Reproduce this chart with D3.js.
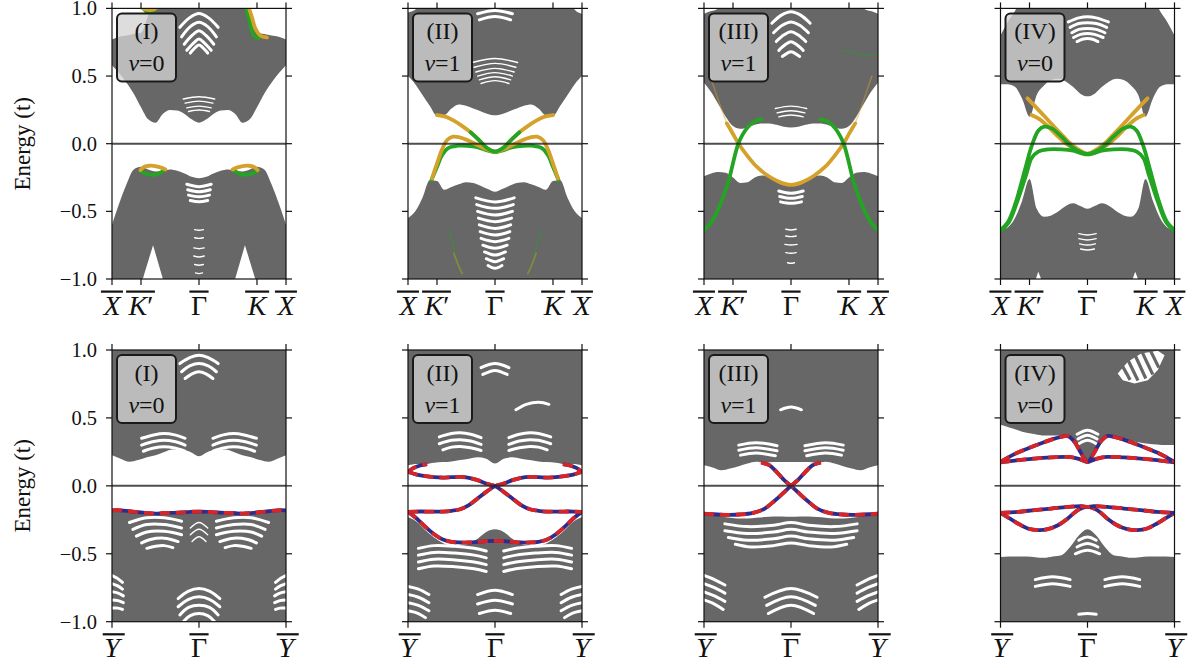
<!DOCTYPE html>
<html>
<head>
<meta charset="utf-8">
<script src="https://cdn.jsdelivr.net/npm/d3@7/dist/d3.min.js"></script>
<style>
  html, body { margin: 0; padding: 0; background: #fff; }
</style>
</head>
<body>
<svg id="fig" width="1203" height="668"></svg>
<script>
// ---------- momentum grids and axis labels ----------
const kTop = [0, 0.0417, 0.0833, 0.125, 0.1667, 0.2083, 0.25, 0.2917, 0.3333, 0.375, 0.4167, 0.4583, 0.5,
              0.5417, 0.5833, 0.625, 0.6667, 0.7083, 0.75, 0.7917, 0.8333, 0.875, 0.9167, 0.9583, 1];
const kBottom = [0, 0.05, 0.1, 0.15, 0.2, 0.25, 0.3, 0.35, 0.4, 0.45, 0.5,
                 0.55, 0.6, 0.65, 0.7, 0.75, 0.8, 0.85, 0.9, 0.95, 1];
const energyTicks = [-1, -0.5, 0, 0.5, 1];
const topTickK = [0, 0.1667, 0.5, 0.8333, 1];
const topTickLabels = ["X", "K′", "Γ", "K", "X"];
const bottomTickK = [0, 0.5, 1];
const bottomTickLabels = ["Y", "Γ", "Y"];
const phaseNames = ["(I)", "(II)", "(III)", "(IV)"];
const nuValues = [0, 1, 1, 0];

// ---------- top row, phase I ----------
const upperLowI  = [0.58,0.52,0.45,0.37,0.27,0.18,0.155,0.22,0.25,0.245,0.22,0.18,0.155,0.18,0.22,0.245,0.25,0.22,0.155,0.18,0.27,0.37,0.45,0.52,0.58];
const upperHighI = [0.77,0.79,0.80,0.81,0.82,0.95,1.1,1.1,1.1,1.1,1.1,1.1,1.1,1.1,1.1,1.1,1.1,1.1,1.1,0.95,0.82,0.81,0.80,0.79,0.77];
const lowerHighI = [-0.60,-0.44,-0.30,-0.19,-0.17,-0.19,-0.205,-0.2,-0.19,-0.2,-0.22,-0.245,-0.256,-0.245,-0.22,-0.2,-0.19,-0.2,-0.205,-0.19,-0.17,-0.19,-0.30,-0.44,-0.60];
const holesI = [
  [[0.172,-1.02],[0.236,-0.75],[0.297,-1.02]],
  [[0.703,-1.02],[0.764,-0.75],[0.828,-1.02]]
];
const gapsBoldI = [
  [[0.39,0.86],[0.445,0.93],[0.50,0.962],[0.555,0.93],[0.61,0.86]],
  [[0.40,0.79],[0.45,0.865],[0.50,0.897],[0.55,0.865],[0.60,0.79]],
  [[0.415,0.735],[0.46,0.80],[0.50,0.835],[0.54,0.80],[0.585,0.735]],
  [[0.43,0.69],[0.47,0.745],[0.50,0.773],[0.53,0.745],[0.57,0.69]],
  [[0.45,0.67],[0.48,0.712],[0.50,0.729],[0.52,0.712],[0.55,0.67]],
  [[0.43,-0.30],[0.5,-0.318],[0.57,-0.30]],
  [[0.435,-0.34],[0.5,-0.355],[0.565,-0.34]],
  [[0.44,-0.38],[0.5,-0.392],[0.56,-0.38]],
  [[0.45,-0.42],[0.5,-0.429],[0.55,-0.42]]
];
const gapsFineI = [
  [[0.41,0.33],[0.5,0.347],[0.59,0.33]],
  [[0.42,0.30],[0.5,0.315],[0.58,0.30]],
  [[0.43,0.265],[0.5,0.278],[0.57,0.265]],
  [[0.44,0.238],[0.5,0.249],[0.56,0.238]],
  [[0.475,-0.635],[0.5,-0.64],[0.525,-0.635]],
  [[0.475,-0.695],[0.5,-0.70],[0.525,-0.695]],
  [[0.47,-0.77],[0.5,-0.776],[0.53,-0.77]],
  [[0.47,-0.83],[0.5,-0.837],[0.53,-0.83]],
  [[0.475,-0.893],[0.5,-0.898],[0.525,-0.893]],
  [[0.48,-0.955],[0.5,-0.96],[0.52,-0.955]]
];
const goldLowLeftI   = [[0.163,-0.195],[0.186,-0.17],[0.215,-0.163],[0.249,-0.165],[0.278,-0.175],[0.307,-0.19]];
const goldLowRightI  = [[0.693,-0.19],[0.722,-0.175],[0.751,-0.165],[0.785,-0.163],[0.814,-0.17],[0.837,-0.195]];
const greenLowLeftI  = [[0.163,-0.2],[0.192,-0.22],[0.22,-0.229],[0.249,-0.229],[0.278,-0.214],[0.297,-0.2]];
const greenLowRightI = [[0.703,-0.2],[0.722,-0.214],[0.751,-0.229],[0.78,-0.229],[0.808,-0.22],[0.837,-0.2]];
const greenHighKI    = [[0.766,1.01],[0.785,0.94],[0.799,0.86],[0.814,0.80],[0.843,0.78]];
const goldHighKI     = [[0.785,1.01],[0.805,0.93],[0.824,0.85],[0.852,0.80],[0.89,0.785]];
const greenHighKpI   = [[0.175,1.01],[0.2,0.975],[0.23,0.975],[0.255,1.01]];
const goldHighKpI    = [[0.165,1.01],[0.2,0.99],[0.235,0.99],[0.26,1.01]];

// ---------- top row, phase II ----------
const upperLowII  = [0.5,0.44,0.36,0.28,0.205,0.21,0.26,0.29,0.28,0.26,0.24,0.22,0.21,0.22,0.24,0.26,0.28,0.29,0.26,0.21,0.205,0.28,0.36,0.44,0.5];
const upperHighII = [0.97,0.99,1.1,1.1,1.1,1.1,1.1,1.1,1.1,1.1,1.1,1.1,1.1,1.1,1.1,1.1,1.1,1.1,1.1,1.1,1.1,1.1,1.1,0.99,0.96];
const lowerHighII = [-0.55,-0.5,-0.4,-0.27,-0.275,-0.34,-0.32,-0.3,-0.285,-0.29,-0.31,-0.335,-0.355,-0.335,-0.31,-0.29,-0.285,-0.3,-0.32,-0.34,-0.275,-0.27,-0.4,-0.5,-0.55];
const gapsBoldII = [
  [[0.40,0.96],[0.5,0.985],[0.6,0.96]],
  [[0.41,0.915],[0.5,0.94],[0.59,0.915]],
  [[0.39,-0.40],[0.5,-0.43],[0.61,-0.40]],
  [[0.395,-0.45],[0.5,-0.478],[0.605,-0.45]],
  [[0.40,-0.50],[0.5,-0.527],[0.60,-0.50]],
  [[0.405,-0.55],[0.5,-0.576],[0.595,-0.55]],
  [[0.41,-0.60],[0.5,-0.626],[0.59,-0.60]],
  [[0.415,-0.65],[0.5,-0.675],[0.585,-0.65]],
  [[0.42,-0.70],[0.5,-0.724],[0.58,-0.70]],
  [[0.43,-0.75],[0.5,-0.773],[0.57,-0.75]],
  [[0.44,-0.80],[0.5,-0.823],[0.56,-0.80]],
  [[0.45,-0.85],[0.5,-0.872],[0.55,-0.85]],
  [[0.46,-0.90],[0.5,-0.921],[0.54,-0.90]]
];
const gapsFineII = [
  [[0.37,0.60],[0.5,0.63],[0.63,0.60]],
  [[0.38,0.565],[0.5,0.594],[0.62,0.565]],
  [[0.39,0.53],[0.5,0.557],[0.61,0.53]],
  [[0.40,0.50],[0.5,0.525],[0.60,0.50]],
  [[0.41,0.472],[0.5,0.495],[0.59,0.472]],
  [[0.42,0.445],[0.5,0.466],[0.58,0.445]]
];
const goldA_II = [[0.167,0.212],[0.215,0.2],[0.263,0.17],[0.312,0.13],[0.36,0.084],[0.408,0.027],[0.456,-0.034],[0.5,-0.059],
                  [0.544,-0.034],[0.592,0.027],[0.64,0.084],[0.688,0.13],[0.737,0.17],[0.785,0.2],[0.833,0.212]];
const greenMidII = [[0.36,0.084],[0.408,0.027],[0.456,-0.034],[0.5,-0.059],[0.544,-0.034],[0.592,0.027],[0.64,0.084]];
const goldB_II = [[0.138,-0.256],[0.167,-0.145],[0.196,-0.042],[0.225,0.027],[0.258,0.052],[0.296,0.047],[0.34,0.027],[0.388,-0.002],[0.446,-0.039],[0.5,-0.059],
                  [0.554,-0.039],[0.612,-0.002],[0.66,0.027],[0.704,0.047],[0.742,0.052],[0.775,0.027],[0.804,-0.042],[0.833,-0.145],[0.862,-0.256]];
const greenC_II = [[0.135,-0.268],[0.167,-0.17],[0.196,-0.084],[0.231,-0.032],[0.283,-0.015],[0.34,-0.015],[0.398,-0.025],[0.456,-0.049],[0.5,-0.062],
                   [0.544,-0.049],[0.602,-0.025],[0.66,-0.015],[0.717,-0.015],[0.769,-0.032],[0.804,-0.084],[0.833,-0.17],[0.865,-0.268]];
const greenFaintLeftII  = [[0.235,-0.64],[0.27,-0.8],[0.302,-0.96]];
const greenFaintRightII = [[0.698,-0.96],[0.73,-0.8],[0.765,-0.64]];
const goldFaintLeftII   = [[0.263,-0.81],[0.29,-0.9],[0.312,-0.96]];
const goldFaintRightII  = [[0.688,-0.96],[0.71,-0.9],[0.737,-0.81]];

// ---------- top row, phase III ----------
const upperLowIII  = [0.45,0.38,0.29,0.2,0.13,0.11,0.12,0.14,0.15,0.15,0.14,0.125,0.12,0.125,0.14,0.15,0.15,0.14,0.12,0.11,0.13,0.2,0.29,0.38,0.45];
const upperHighIII = [0.96,0.98,1.0,1.1,1.1,1.1,1.1,1.1,1.1,1.1,1.1,1.1,1.1,1.1,1.1,1.1,1.1,1.1,1.1,1.1,1.1,1.1,1.0,0.98,0.96];
const lowerHighIII = [-0.24,-0.22,-0.21,-0.215,-0.25,-0.29,-0.285,-0.25,-0.235,-0.24,-0.26,-0.29,-0.305,-0.29,-0.26,-0.24,-0.235,-0.25,-0.285,-0.29,-0.25,-0.215,-0.21,-0.22,-0.24];
const gapsBoldIII = [
  [[0.39,0.89],[0.445,0.95],[0.50,0.975],[0.555,0.95],[0.61,0.89]],
  [[0.40,0.82],[0.45,0.875],[0.50,0.90],[0.55,0.875],[0.60,0.82]],
  [[0.415,0.755],[0.46,0.805],[0.50,0.828],[0.54,0.805],[0.585,0.755]],
  [[0.43,0.69],[0.47,0.735],[0.50,0.754],[0.53,0.735],[0.57,0.69]],
  [[0.45,0.645],[0.48,0.67],[0.50,0.68],[0.52,0.67],[0.55,0.645]],
  [[0.43,-0.35],[0.5,-0.367],[0.57,-0.35]],
  [[0.435,-0.39],[0.5,-0.404],[0.565,-0.39]],
  [[0.44,-0.43],[0.5,-0.441],[0.56,-0.43]]
];
const gapsFineIII = [
  [[0.41,0.26],[0.5,0.278],[0.59,0.26]],
  [[0.42,0.228],[0.5,0.244],[0.58,0.228]],
  [[0.43,0.198],[0.5,0.212],[0.57,0.198]],
  [[0.47,-0.632],[0.5,-0.638],[0.53,-0.632]],
  [[0.47,-0.682],[0.5,-0.687],[0.53,-0.682]],
  [[0.465,-0.744],[0.5,-0.749],[0.535,-0.744]],
  [[0.47,-0.805],[0.5,-0.81],[0.53,-0.805]],
  [[0.48,-0.88],[0.5,-0.884],[0.52,-0.88]]
];
const goldIII = [[0.131,0.15],[0.165,0.076],[0.198,0.002],[0.246,-0.084],[0.303,-0.17],[0.37,-0.239],[0.438,-0.286],[0.5,-0.305],
                 [0.562,-0.286],[0.63,-0.239],[0.697,-0.17],[0.754,-0.084],[0.802,0.002],[0.835,0.076],[0.869,0.15]];
const greenLeftIII  = [[0,-0.638],[0.044,-0.576],[0.092,-0.453],[0.14,-0.281],[0.198,0.002],[0.246,0.113],[0.294,0.167],[0.332,0.18]];
const greenRightIII = [[0.668,0.18],[0.706,0.167],[0.754,0.113],[0.802,0.002],[0.86,-0.281],[0.908,-0.453],[0.956,-0.576],[1,-0.638]];
const goldFaintLeftIII  = [[0.035,0.5],[0.08,0.33],[0.131,0.15]];
const goldFaintRightIII = [[0.869,0.15],[0.92,0.33],[0.965,0.5]];
const greenFaintIII     = [[0.8,0.69],[0.9,0.66],[1,0.655]];

// ---------- top row, phase IV ----------
const upperLowIV  = [0.44,0.44,0.42,0.33,0.2,0.36,0.43,0.47,0.48,0.46,0.42,0.37,0.35,0.37,0.42,0.46,0.48,0.47,0.43,0.36,0.2,0.33,0.42,0.44,0.44];
const upperHighIV = [0.8,0.9,0.98,1.1,1.1,1.1,1.1,1.1,1.1,1.1,1.1,1.1,1.1,1.1,1.1,1.1,1.1,1.1,1.1,1.1,1.1,1.1,0.98,0.9,0.8];
const lowerHighIV = [-0.64,-0.62,-0.55,-0.42,-0.26,-0.48,-0.54,-0.53,-0.5,-0.46,-0.44,-0.46,-0.48,-0.46,-0.44,-0.46,-0.5,-0.53,-0.54,-0.48,-0.26,-0.42,-0.55,-0.62,-0.64];
const holesIV = [
  [[0.198,-1.02],[0.217,-0.946],[0.24,-1.02]],
  [[0.754,-1.02],[0.774,-0.946],[0.797,-1.02]]
];
const gapsBoldIV = [
  [[0.39,0.90],[0.45,0.93],[0.50,0.938],[0.55,0.93],[0.62,0.90]],
  [[0.40,0.86],[0.45,0.888],[0.50,0.894],[0.55,0.888],[0.61,0.86]],
  [[0.41,0.82],[0.45,0.845],[0.50,0.852],[0.55,0.845],[0.60,0.82]],
  [[0.42,0.785],[0.46,0.808],[0.50,0.815],[0.54,0.808],[0.59,0.785]],
  [[0.44,0.755],[0.47,0.772],[0.50,0.778],[0.53,0.772],[0.56,0.755]]
];
const gapsFineIV = [
  [[0.45,-0.665],[0.5,-0.675],[0.55,-0.665]],
  [[0.45,-0.702],[0.5,-0.712],[0.55,-0.702]],
  [[0.455,-0.74],[0.5,-0.749],[0.545,-0.74]],
  [[0.46,-0.778],[0.5,-0.786],[0.54,-0.778]]
];
const greenUpIV = [[0,-0.638],[0.044,-0.576],[0.092,-0.416],[0.14,-0.195],[0.178,-0.022],[0.217,0.096],[0.251,0.126],[0.294,0.113],[0.351,0.052],[0.409,-0.022],[0.457,-0.059],[0.5,-0.076],
                   [0.543,-0.059],[0.591,-0.022],[0.649,0.052],[0.706,0.113],[0.749,0.126],[0.783,0.096],[0.822,-0.022],[0.86,-0.195],[0.908,-0.416],[0.956,-0.576],[1,-0.638]];
const greenLowIV = [[0,-0.645],[0.048,-0.58],[0.098,-0.42],[0.15,-0.219],[0.178,-0.108],[0.217,-0.059],[0.274,-0.042],[0.351,-0.042],[0.418,-0.052],[0.466,-0.071],[0.5,-0.079],
                    [0.534,-0.071],[0.582,-0.052],[0.649,-0.042],[0.726,-0.042],[0.783,-0.059],[0.822,-0.108],[0.85,-0.219],[0.902,-0.42],[0.952,-0.58],[1,-0.645]];
const goldOneIV = [[0.155,0.335],[0.198,0.278],[0.246,0.212],[0.294,0.145],[0.342,0.081],[0.39,0.015],[0.438,-0.034],[0.5,-0.073],
                   [0.562,-0.034],[0.61,0.015],[0.658,0.081],[0.706,0.145],[0.754,0.212],[0.802,0.278],[0.845,0.335]];
const goldTwoIV = [[0.178,0.212],[0.226,0.18],[0.274,0.126],[0.322,0.064],[0.37,0.007],[0.418,-0.034],[0.466,-0.067],[0.5,-0.076],
                   [0.534,-0.067],[0.582,-0.034],[0.63,0.007],[0.678,0.064],[0.726,0.126],[0.774,0.18],[0.822,0.212]];

// ---------- bottom row, phase I ----------
const upperLowBI = [0.226,0.2,0.177,0.19,0.21,0.226,0.25,0.268,0.263,0.25,0.218,0.25,0.263,0.268,0.25,0.226,0.21,0.19,0.177,0.2,0.226];
const lowerHighBI = [-0.19,-0.19,-0.197,-0.204,-0.21,-0.214,-0.21,-0.209,-0.206,-0.201,-0.2,-0.201,-0.206,-0.209,-0.21,-0.214,-0.21,-0.204,-0.197,-0.19,-0.19];
const gapsBoldBI = [
  [[0.39,0.90],[0.45,0.945],[0.5,0.962],[0.55,0.945],[0.61,0.90]],
  [[0.40,0.84],[0.45,0.885],[0.5,0.90],[0.55,0.885],[0.60,0.84]],
  [[0.42,0.79],[0.46,0.825],[0.5,0.84],[0.54,0.825],[0.58,0.79]],
  [[0.17,0.35],[0.24,0.375],[0.3,0.385],[0.36,0.375],[0.42,0.35]],
  [[0.17,0.30],[0.24,0.326],[0.3,0.336],[0.36,0.326],[0.42,0.30]],
  [[0.18,0.255],[0.24,0.278],[0.3,0.287],[0.36,0.278],[0.42,0.255]],
  [[0.58,0.35],[0.64,0.375],[0.7,0.385],[0.76,0.375],[0.83,0.35]],
  [[0.58,0.30],[0.64,0.326],[0.7,0.336],[0.76,0.326],[0.83,0.30]],
  [[0.58,0.255],[0.64,0.278],[0.7,0.287],[0.76,0.278],[0.82,0.255]],
  [[0.1,-0.27],[0.2,-0.235],[0.3,-0.235],[0.4,-0.26]],
  [[0.12,-0.32],[0.2,-0.285],[0.3,-0.285],[0.4,-0.31]],
  [[0.14,-0.37],[0.2,-0.34],[0.3,-0.335],[0.4,-0.36]],
  [[0.17,-0.42],[0.22,-0.395],[0.3,-0.385],[0.38,-0.41]],
  [[0.2,-0.46],[0.25,-0.445],[0.3,-0.44],[0.35,-0.455]],
  [[0.6,-0.26],[0.7,-0.235],[0.8,-0.235],[0.9,-0.27]],
  [[0.6,-0.31],[0.7,-0.285],[0.8,-0.285],[0.88,-0.32]],
  [[0.6,-0.36],[0.7,-0.335],[0.8,-0.34],[0.86,-0.37]],
  [[0.62,-0.41],[0.7,-0.385],[0.78,-0.395],[0.83,-0.42]],
  [[0.65,-0.455],[0.7,-0.44],[0.75,-0.445],[0.8,-0.46]],
  [[0.38,-0.83],[0.44,-0.775],[0.5,-0.756],[0.56,-0.775],[0.62,-0.83]],
  [[0.38,-0.89],[0.44,-0.835],[0.5,-0.817],[0.56,-0.835],[0.62,-0.89]],
  [[0.39,-0.95],[0.44,-0.895],[0.5,-0.879],[0.56,-0.895],[0.61,-0.95]],
  [[0.41,-1.0],[0.45,-0.955],[0.5,-0.94],[0.55,-0.955],[0.59,-1.0]],
  [[0,-0.66],[0.03,-0.68],[0.06,-0.71]],
  [[0,-0.72],[0.03,-0.735],[0.06,-0.76]],
  [[0,-0.78],[0.035,-0.79],[0.065,-0.81]],
  [[0,-0.84],[0.035,-0.845],[0.065,-0.86]],
  [[0,-0.9],[0.035,-0.9],[0.06,-0.91]],
  [[0.94,-0.71],[0.97,-0.68],[1,-0.66]],
  [[0.94,-0.76],[0.97,-0.735],[1,-0.72]],
  [[0.935,-0.81],[0.965,-0.79],[1,-0.78]],
  [[0.935,-0.86],[0.965,-0.845],[1,-0.84]],
  [[0.94,-0.91],[0.965,-0.9],[1,-0.9]]
];
const gapsFineBI = [
  [[0.45,-0.31],[0.5,-0.27],[0.55,-0.31]],
  [[0.45,-0.36],[0.5,-0.32],[0.55,-0.36]],
  [[0.46,-0.41],[0.5,-0.375],[0.54,-0.41]]
];
const surfaceBI = [[0,-0.18],[0.05,-0.18],[0.1,-0.187],[0.15,-0.194],[0.2,-0.2],[0.25,-0.204],[0.3,-0.2],[0.35,-0.199],[0.4,-0.196],[0.45,-0.191],[0.5,-0.19],
                   [0.55,-0.191],[0.6,-0.196],[0.65,-0.199],[0.7,-0.2],[0.75,-0.204],[0.8,-0.2],[0.85,-0.194],[0.9,-0.187],[0.95,-0.18],[1,-0.18]];

// ---------- bottom row, phase II ----------
const upperLowBII = [0.15,0.16,0.16,0.17,0.175,0.18,0.19,0.2,0.21,0.2,0.165,0.2,0.21,0.2,0.19,0.18,0.175,0.17,0.16,0.16,0.15];
const lowerHighBII = [-0.23,-0.265,-0.326,-0.38,-0.42,-0.44,-0.44,-0.43,-0.39,-0.34,-0.32,-0.34,-0.39,-0.43,-0.44,-0.44,-0.42,-0.38,-0.326,-0.265,-0.23];
const gapsBoldBII = [
  [[0.42,0.87],[0.5,0.9],[0.58,0.87]],
  [[0.43,0.82],[0.5,0.85],[0.57,0.82]],
  [[0.62,0.56],[0.68,0.6],[0.75,0.615],[0.81,0.6]],
  [[0.18,0.36],[0.25,0.385],[0.3,0.39],[0.36,0.38],[0.42,0.355]],
  [[0.18,0.31],[0.25,0.335],[0.3,0.34],[0.36,0.33],[0.42,0.305]],
  [[0.2,0.265],[0.25,0.285],[0.3,0.29],[0.36,0.28],[0.42,0.26]],
  [[0.58,0.355],[0.64,0.38],[0.7,0.39],[0.75,0.385],[0.82,0.36]],
  [[0.58,0.305],[0.64,0.33],[0.7,0.34],[0.75,0.335],[0.82,0.31]],
  [[0.58,0.26],[0.64,0.28],[0.7,0.29],[0.75,0.285],[0.8,0.265]],
  [[0.06,-0.46],[0.15,-0.44],[0.27,-0.445],[0.38,-0.46],[0.45,-0.48]],
  [[0.06,-0.51],[0.15,-0.49],[0.27,-0.495],[0.38,-0.51],[0.45,-0.53]],
  [[0.06,-0.56],[0.15,-0.54],[0.27,-0.545],[0.38,-0.56],[0.45,-0.58]],
  [[0.06,-0.61],[0.15,-0.59],[0.27,-0.595],[0.38,-0.61],[0.45,-0.63]],
  [[0.55,-0.48],[0.62,-0.46],[0.73,-0.445],[0.85,-0.44],[0.94,-0.46]],
  [[0.55,-0.53],[0.62,-0.51],[0.73,-0.495],[0.85,-0.49],[0.94,-0.51]],
  [[0.55,-0.58],[0.62,-0.56],[0.73,-0.545],[0.85,-0.54],[0.94,-0.56]],
  [[0.55,-0.63],[0.62,-0.61],[0.73,-0.595],[0.85,-0.59],[0.94,-0.61]],
  [[0,-0.74],[0.06,-0.76],[0.12,-0.8]],
  [[0,-0.8],[0.06,-0.82],[0.12,-0.86]],
  [[0,-0.86],[0.06,-0.88],[0.12,-0.92]],
  [[0,-0.92],[0.06,-0.94],[0.1,-0.97]],
  [[0.88,-0.8],[0.94,-0.76],[1,-0.74]],
  [[0.88,-0.86],[0.94,-0.82],[1,-0.8]],
  [[0.88,-0.92],[0.94,-0.88],[1,-0.86]],
  [[0.9,-0.97],[0.94,-0.94],[1,-0.92]],
  [[0.4,-0.8],[0.5,-0.768],[0.6,-0.8]],
  [[0.4,-0.87],[0.5,-0.842],[0.6,-0.87]],
  [[0.41,-0.94],[0.5,-0.915],[0.59,-0.94]]
];
const surfaceOneBII = [[0,0.103],[0.05,0.083],[0.1,0.071],[0.15,0.064],[0.2,0.061],[0.25,0.064],[0.3,0.066],[0.35,0.059],[0.4,0.042],[0.45,0.017],[0.5,-0.002],
                       [0.55,-0.044],[0.6,-0.093],[0.65,-0.142],[0.7,-0.172],[0.75,-0.184],[0.8,-0.189],[0.85,-0.189],[0.9,-0.189],[0.95,-0.189],[1,-0.191]];
const surfaceTwoBII = [[0,-0.191],[0.05,-0.189],[0.1,-0.189],[0.15,-0.189],[0.2,-0.189],[0.25,-0.184],[0.3,-0.172],[0.35,-0.142],[0.4,-0.093],[0.45,-0.044],[0.5,-0.002],
                       [0.55,0.017],[0.6,0.042],[0.65,0.059],[0.7,0.066],[0.75,0.064],[0.8,0.061],[0.85,0.064],[0.9,0.071],[0.95,0.083],[1,0.103]];
const surfaceBowlBII = [[0,-0.191],[0.05,-0.24],[0.1,-0.302],[0.15,-0.356],[0.2,-0.395],[0.25,-0.412],[0.3,-0.417],[0.35,-0.417],[0.4,-0.412],[0.45,-0.407],[0.5,-0.405],
                        [0.55,-0.407],[0.6,-0.412],[0.65,-0.417],[0.7,-0.417],[0.75,-0.412],[0.8,-0.395],[0.85,-0.356],[0.9,-0.302],[0.95,-0.24],[1,-0.191]];
const surfaceLoopLeftBII  = [[0,0.103],[0.03,0.13],[0.07,0.15],[0.11,0.16]];
const surfaceLoopRightBII = [[0.89,0.16],[0.93,0.15],[0.97,0.13],[1,0.103]];

// ---------- bottom row, phase III ----------
const upperLowBIII = [0.152,0.135,0.115,0.128,0.145,0.164,0.177,0.17,0.175,0.175,0.175,0.175,0.175,0.17,0.177,0.164,0.145,0.128,0.115,0.135,0.152];
const lowerHighBIII = [-0.21,-0.215,-0.225,-0.235,-0.24,-0.24,-0.235,-0.23,-0.225,-0.225,-0.228,-0.225,-0.225,-0.23,-0.235,-0.24,-0.24,-0.235,-0.225,-0.215,-0.21];
const gapsBoldBIII = [
  [[0.2,0.3],[0.3,0.318],[0.42,0.295]],
  [[0.2,0.262],[0.3,0.28],[0.42,0.258]],
  [[0.21,0.226],[0.3,0.242],[0.41,0.222]],
  [[0.58,0.295],[0.7,0.318],[0.8,0.3]],
  [[0.58,0.258],[0.7,0.28],[0.8,0.262]],
  [[0.59,0.222],[0.7,0.242],[0.79,0.226]],
  [[0.44,0.56],[0.5,0.58],[0.56,0.56]],
  [[0.12,-0.28],[0.25,-0.3],[0.4,-0.29],[0.5,-0.27],[0.6,-0.29],[0.75,-0.3],[0.88,-0.28]],
  [[0.12,-0.33],[0.25,-0.35],[0.4,-0.34],[0.5,-0.32],[0.6,-0.34],[0.75,-0.35],[0.88,-0.33]],
  [[0.14,-0.38],[0.25,-0.4],[0.4,-0.39],[0.5,-0.37],[0.6,-0.39],[0.75,-0.4],[0.86,-0.38]],
  [[0.18,-0.43],[0.27,-0.45],[0.4,-0.44],[0.5,-0.42],[0.6,-0.44],[0.73,-0.45],[0.82,-0.43]],
  [[0,-0.66],[0.06,-0.69],[0.12,-0.73]],
  [[0,-0.72],[0.06,-0.75],[0.12,-0.79]],
  [[0,-0.78],[0.06,-0.81],[0.12,-0.85]],
  [[0,-0.84],[0.06,-0.87],[0.11,-0.91]],
  [[0.88,-0.73],[0.94,-0.69],[1,-0.66]],
  [[0.88,-0.79],[0.94,-0.75],[1,-0.72]],
  [[0.88,-0.85],[0.94,-0.81],[1,-0.78]],
  [[0.89,-0.91],[0.94,-0.87],[1,-0.84]],
  [[0.35,-0.82],[0.5,-0.756],[0.65,-0.82]],
  [[0.36,-0.88],[0.5,-0.817],[0.64,-0.88]],
  [[0.37,-0.94],[0.5,-0.879],[0.63,-0.94]]
];
const surfaceOneBIII = [[0.328,0.172],[0.375,0.152],[0.417,0.103],[0.461,0.042],[0.5,0],[0.547,-0.056],[0.594,-0.11],[0.651,-0.167],[0.718,-0.199],[0.794,-0.211],[0.87,-0.213],[0.947,-0.209],[1,-0.204]];
const surfaceTwoBIII = [[0,-0.204],[0.053,-0.209],[0.13,-0.213],[0.206,-0.211],[0.282,-0.199],[0.349,-0.167],[0.406,-0.11],[0.453,-0.056],[0.5,0],[0.539,0.042],[0.583,0.103],[0.625,0.152],[0.672,0.172]];

// ---------- bottom row, phase IV ----------
const upperLowBIV = [0.45,0.43,0.41,0.39,0.38,0.37,0.37,0.37,0.36,0.27,0.18,0.27,0.36,0.36,0.34,0.33,0.32,0.31,0.305,0.3,0.3];
const lowerHighBIV = [-0.523,-0.52,-0.52,-0.52,-0.525,-0.53,-0.52,-0.51,-0.45,-0.365,-0.32,-0.365,-0.45,-0.51,-0.52,-0.53,-0.525,-0.52,-0.52,-0.52,-0.523];
const holesBIV = [
  [[0.674,0.827],[0.732,0.913],[0.808,0.974],[0.904,0.994],[0.943,0.962],[0.904,0.852],[0.847,0.778],[0.77,0.753],[0.703,0.778]]
];
const bulkStripesBIV = [
  [[0.68,0.93],[0.745,0.78]],
  [[0.72,0.96],[0.79,0.775]],
  [[0.765,0.985],[0.835,0.79]],
  [[0.81,0.995],[0.875,0.82]],
  [[0.86,1.0],[0.91,0.87]]
];
const gapsBoldBIV = [
  [[0.44,0.38],[0.5,0.41],[0.56,0.38]],
  [[0.445,0.345],[0.5,0.373],[0.555,0.345]],
  [[0.45,0.31],[0.5,0.336],[0.55,0.31]],
  [[0.45,-0.4],[0.5,-0.376],[0.55,-0.4]],
  [[0.44,-0.45],[0.5,-0.425],[0.56,-0.45]],
  [[0.43,-0.5],[0.5,-0.474],[0.57,-0.5]],
  [[0.2,-0.69],[0.3,-0.67],[0.4,-0.69]],
  [[0.2,-0.74],[0.3,-0.72],[0.4,-0.74]],
  [[0.6,-0.69],[0.7,-0.67],[0.8,-0.69]],
  [[0.6,-0.74],[0.7,-0.72],[0.8,-0.74]],
  [[0.45,-0.945],[0.5,-0.94],[0.55,-0.945]]
];
const surfaceUpOneBIV = [[0,0.177],[0.05,0.213],[0.1,0.245],[0.15,0.272],[0.2,0.297],[0.25,0.321],[0.3,0.344],[0.35,0.361],[0.387,0.366],[0.425,0.324],[0.464,0.238],[0.5,0.177],
                         [0.536,0.238],[0.575,0.324],[0.613,0.366],[0.65,0.361],[0.7,0.344],[0.75,0.321],[0.8,0.297],[0.85,0.272],[0.9,0.245],[0.95,0.213],[1,0.177]];
const surfaceUpTwoBIV = [[0,0.172],[0.1,0.189],[0.195,0.201],[0.291,0.209],[0.387,0.213],[0.444,0.201],[0.5,0.177],
                         [0.556,0.201],[0.613,0.213],[0.709,0.209],[0.805,0.201],[0.9,0.189],[1,0.172]];
const surfaceLowOneBIV = [[0,-0.199],[0.1,-0.191],[0.195,-0.179],[0.291,-0.167],[0.387,-0.155],[0.464,-0.15],[0.5,-0.155],
                          [0.536,-0.15],[0.613,-0.155],[0.709,-0.167],[0.805,-0.179],[0.9,-0.191],[1,-0.199]];
const surfaceLowTwoBIV = [[0,-0.199],[0.052,-0.24],[0.1,-0.277],[0.157,-0.314],[0.215,-0.326],[0.272,-0.319],[0.33,-0.29],[0.387,-0.24],[0.444,-0.179],[0.5,-0.155],
                          [0.556,-0.179],[0.613,-0.24],[0.67,-0.29],[0.728,-0.319],[0.785,-0.326],[0.843,-0.314],[0.9,-0.277],[0.948,-0.24],[1,-0.199]];

// ---------- panel table ----------
const panels = [
  { row: 0, col: 0, upperLow: upperLowI, upperHigh: upperHighI, lowerHigh: lowerHighI, holes: holesI,
    gapsBold: gapsBoldI, gapsFine: gapsFineI,
    edges: [["green", greenLowLeftI], ["green", greenLowRightI], ["gold", goldLowLeftI], ["gold", goldLowRightI],
            ["green", greenHighKI], ["gold", goldHighKI], ["green", greenHighKpI], ["gold", goldHighKpI]] },
  { row: 0, col: 1, upperLow: upperLowII, upperHigh: upperHighII, lowerHigh: lowerHighII,
    gapsBold: gapsBoldII, gapsFine: gapsFineII,
    edges: [["greenFaint", greenFaintLeftII], ["greenFaint", greenFaintRightII], ["goldFaint", goldFaintLeftII], ["goldFaint", goldFaintRightII],
            ["green", greenC_II], ["gold", goldB_II], ["gold", goldA_II], ["green", greenMidII]] },
  { row: 0, col: 2, upperLow: upperLowIII, upperHigh: upperHighIII, lowerHigh: lowerHighIII,
    gapsBold: gapsBoldIII, gapsFine: gapsFineIII,
    edges: [["goldFaint", goldFaintLeftIII], ["goldFaint", goldFaintRightIII], ["greenFaint", greenFaintIII],
            ["gold", goldIII], ["green", greenLeftIII], ["green", greenRightIII]] },
  { row: 0, col: 3, upperLow: upperLowIV, upperHigh: upperHighIV, lowerHigh: lowerHighIV, holes: holesIV,
    gapsBold: gapsBoldIV, gapsFine: gapsFineIV,
    edges: [["gold", goldOneIV], ["gold", goldTwoIV], ["green", greenLowIV], ["green", greenUpIV]] },
  { row: 1, col: 0, upperLow: upperLowBI, lowerHigh: lowerHighBI, gapsBold: gapsBoldBI, gapsFine: gapsFineBI,
    surface: [surfaceBI] },
  { row: 1, col: 1, upperLow: upperLowBII, lowerHigh: lowerHighBII, gapsBold: gapsBoldBII,
    surface: [surfaceBowlBII, surfaceLoopLeftBII, surfaceLoopRightBII, surfaceOneBII, surfaceTwoBII] },
  { row: 1, col: 2, upperLow: upperLowBIII, lowerHigh: lowerHighBIII, gapsBold: gapsBoldBIII,
    surface: [surfaceOneBIII, surfaceTwoBIII] },
  { row: 1, col: 3, upperLow: upperLowBIV, lowerHigh: lowerHighBIV, holes: holesBIV, stripes: bulkStripesBIV,
    gapsBold: gapsBoldBIV,
    surface: [surfaceUpTwoBIV, surfaceUpOneBIV, surfaceLowTwoBIV, surfaceLowOneBIV] }
];

// ---------- layout and style ----------
const SERIF = "'Liberation Serif', 'DejaVu Serif', 'Noto Serif', 'Times New Roman', Tinos, serif";
const svg = d3.select("#fig").attr("font-family", SERIF);
const defs = svg.append("defs");
const PW = 174;
const colLeft = [112, 408, 704, 1000.5];
const rowFrame = [{ top: 8.4, bottom: 279 }, { top: 350, bottom: 621.7 }];
const COLORS = {
  bulk: "#676767", gold: "#d4a12a", green: "#23a423", red: "#d82424", blue: "#2c2c8e", ink: "#111"
};

function addText(parent) {
  return parent.append("text").attr("font-family", SERIF).attr("fill", COLORS.ink);
}

function drawPanel(p) {
  const x0 = colLeft[p.col], x1 = x0 + PW;
  const { top, bottom } = rowFrame[p.row];
  const x = d3.scaleLinear().domain([0, 1]).range([x0, x1]);
  const y = d3.scaleLinear().domain([-1, 1]).range([bottom, top]);
  const kGrid = p.row === 0 ? kTop : kBottom;

  const clipId = `clip-${p.row}-${p.col}`;
  defs.append("clipPath").attr("id", clipId)
    .append("rect").attr("x", x0).attr("y", top).attr("width", PW).attr("height", bottom - top);
  const plot = svg.append("g").attr("clip-path", `url(#${clipId})`);

  // bulk continua
  const upperArea = d3.area().curve(d3.curveMonotoneX)
    .x((d, i) => x(kGrid[i]))
    .y0(d => y(d))
    .y1((d, i) => p.upperHigh ? y(p.upperHigh[i]) : top - 6);
  plot.append("path").datum(p.upperLow).attr("d", upperArea).attr("fill", COLORS.bulk);

  const lowerArea = d3.area().curve(d3.curveMonotoneX)
    .x((d, i) => x(kGrid[i]))
    .y0(bottom + 6)
    .y1(d => y(d));
  plot.append("path").datum(p.lowerHigh).attr("d", lowerArea).attr("fill", COLORS.bulk);

  // gaps inside the bulk
  const poly = d3.line().x(d => x(d[0])).y(d => y(d[1])).curve(d3.curveLinearClosed);
  (p.holes || []).forEach(h => plot.append("path").attr("d", poly(h)).attr("fill", "#fff"));
  const smooth = d3.line().x(d => x(d[0])).y(d => y(d[1])).curve(d3.curveCatmullRom.alpha(0.5));
  (p.stripes || []).forEach(s => plot.append("path").attr("d", smooth(s))
    .attr("fill", "none").attr("stroke", COLORS.bulk).attr("stroke-width", 3.2));
  (p.gapsBold || []).forEach(gp => plot.append("path").attr("d", smooth(gp))
    .attr("fill", "none").attr("stroke", "#fff").attr("stroke-width", 3).attr("stroke-linecap", "round"));
  (p.gapsFine || []).forEach(gp => plot.append("path").attr("d", smooth(gp))
    .attr("fill", "none").attr("stroke", "#fff").attr("stroke-width", 1.4).attr("stroke-linecap", "round"));

  // edge states (valley-resolved)
  (p.edges || []).forEach(([kind, pts]) => {
    const faint = kind.endsWith("Faint");
    const colour = kind.startsWith("gold") ? COLORS.gold : COLORS.green;
    plot.append("path").attr("d", smooth(pts)).attr("fill", "none")
      .attr("stroke", colour).attr("stroke-width", faint ? 1.5 : 3.8)
      .attr("stroke-opacity", faint ? 0.45 : 1).attr("stroke-linecap", "round");
  });

  // surface states (spin-resolved, alternating colours)
  (p.surface || []).forEach(pts => {
    plot.append("path").attr("d", smooth(pts)).attr("fill", "none")
      .attr("stroke", COLORS.blue).attr("stroke-width", 3.8);
    plot.append("path").attr("d", smooth(pts)).attr("fill", "none")
      .attr("stroke", COLORS.red).attr("stroke-width", 3.8).attr("stroke-dasharray", "10 6");
  });

  // Fermi level
  svg.append("line").attr("x1", x0).attr("x2", x1).attr("y1", y(0)).attr("y2", y(0))
    .attr("stroke", "#222").attr("stroke-opacity", 0.8).attr("stroke-width", 2);

  // frame and ticks
  svg.append("rect").attr("x", x0).attr("y", top).attr("width", PW).attr("height", bottom - top)
    .attr("fill", "none").attr("stroke", COLORS.ink).attr("stroke-width", 1.2);
  const tickG = svg.append("g").attr("stroke", COLORS.ink).attr("stroke-width", 1.2);
  energyTicks.forEach(e => {
    tickG.append("line").attr("x1", x0 - 6).attr("x2", x0).attr("y1", y(e)).attr("y2", y(e));
    tickG.append("line").attr("x1", x1).attr("x2", x1 + 6).attr("y1", y(e)).attr("y2", y(e));
  });
  const ks = p.row === 0 ? topTickK : bottomTickK;
  const labels = p.row === 0 ? topTickLabels : bottomTickLabels;
  ks.forEach(k => {
    tickG.append("line").attr("x1", x(k)).attr("x2", x(k)).attr("y1", bottom).attr("y2", bottom + 6);
    tickG.append("line").attr("x1", x(k)).attr("x2", x(k)).attr("y1", top - 6).attr("y2", top);
  });

  // high-symmetry point labels with overbars
  ks.forEach((k, i) => {
    const lab = labels[i];
    const t = addText(svg).attr("x", x(k)).attr("y", bottom + 35.5)
      .attr("text-anchor", "middle").attr("font-size", 28);
    if (lab === "Γ") {
      t.text(lab);
    } else {
      t.append("tspan").attr("font-style", "italic").text(lab[0]);
      if (lab.length > 1) t.append("tspan").text(lab.slice(1));
    }
    const bb = t.node().getBBox();
    svg.append("rect").attr("x", bb.x - 1.5).attr("y", bottom + 11.5)
      .attr("width", bb.width + 3).attr("height", 2.2).attr("fill", COLORS.ink);
  });

  // energy tick labels on the first column
  if (p.col === 0) {
    energyTicks.forEach(e => {
      addText(svg).attr("x", x0 - 15).attr("y", y(e) + 7)
        .attr("text-anchor", "end").attr("font-size", 20.5)
        .text((e < 0 ? "\u2212" : "") + Math.abs(e).toFixed(1));
    });
    addText(svg).attr("transform", `translate(30,${y(0)}) rotate(-90)`)
      .attr("text-anchor", "middle").attr("font-size", 23).text("Energy (t)");
  }

  // phase label box
  const bx = x0 + 5, by = top + 5, bw = 59, bh = 68;
  svg.append("rect").attr("x", bx).attr("y", by).attr("width", bw).attr("height", bh)
    .attr("rx", 5).attr("ry", 5)
    .attr("fill", "#d3d3d3").attr("fill-opacity", 0.78)
    .attr("stroke", "#1a1a1a").attr("stroke-width", 2);
  addText(svg).attr("x", bx + bw / 2).attr("y", by + 25.5)
    .attr("text-anchor", "middle").attr("font-size", 24).text(phaseNames[p.col]);
  const nu = addText(svg).attr("x", bx + bw / 2).attr("y", by + 58)
    .attr("text-anchor", "middle").attr("font-size", 24);
  nu.append("tspan").attr("font-style", "italic").text("ν");
  nu.append("tspan").text("=" + nuValues[p.col]);
}

panels.forEach(drawPanel);
</script>
</body>
</html>
